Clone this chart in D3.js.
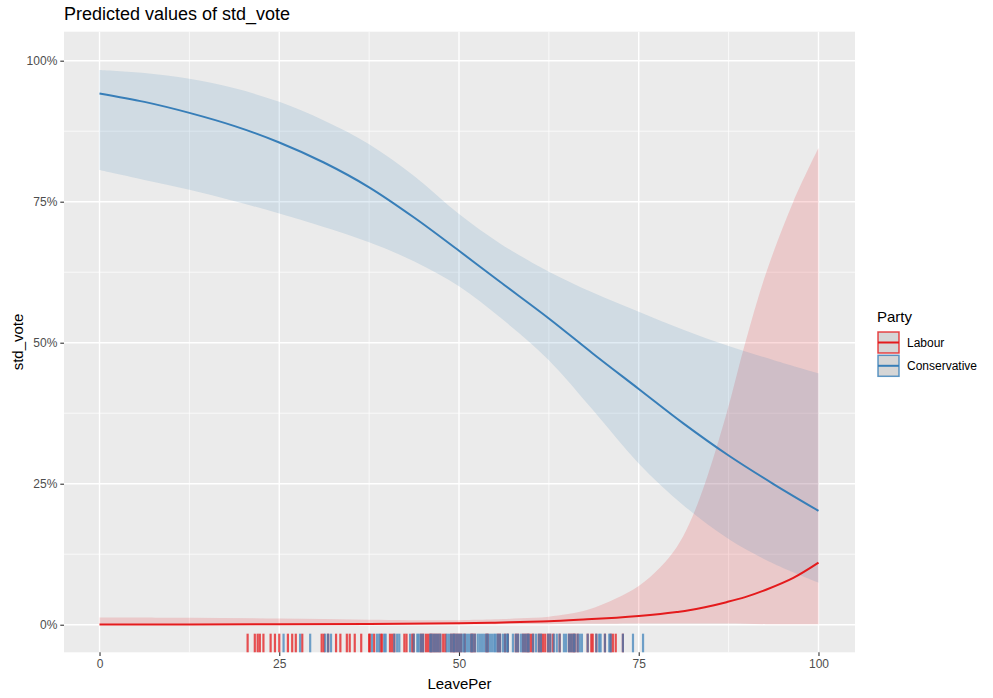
<!DOCTYPE html>
<html><head><meta charset="utf-8">
<script src="https://cdn.jsdelivr.net/npm/d3@7"></script>
<style>body{margin:0;background:#fff}svg{display:block}text{font-family:"Liberation Sans",Arial,Helvetica,sans-serif}</style>
</head><body>
<svg id="chart" width="993" height="698"></svg>
<script>
// ---- data ----
const consX     = [0, 6.25, 12.5, 18.8, 25, 31.2, 37.5, 43.8, 50, 55.7, 62.5, 68.6, 75, 81.2, 87.5, 93.8, 100];
const consFit   = [0.942, 0.927, 0.9075, 0.884, 0.855, 0.8195, 0.7755, 0.7215, 0.663, 0.608, 0.543, 0.481, 0.418, 0.357, 0.3, 0.249, 0.202];
const consHigh  = [0.9835, 0.978, 0.968, 0.951, 0.927, 0.894, 0.852, 0.795, 0.728, 0.676, 0.626, 0.589, 0.555, 0.523, 0.494, 0.469, 0.4457];
const consLow   = [0.806, 0.7885, 0.771, 0.751, 0.729, 0.705, 0.678, 0.644, 0.6, 0.545, 0.469, 0.381, 0.286, 0.212, 0.152, 0.108, 0.0745];

const labX      = [0, 12.5, 25, 37.5, 50, 55, 58.5, 62.5, 67.8, 71.9, 75, 78, 80.3, 82, 84.2, 87.2, 89.8, 92.7, 96.5, 100];
const labFit    = [0.0003, 0.0005, 0.0007, 0.0012, 0.0025, 0.0036, 0.0048, 0.006, 0.0095, 0.0125, 0.0154, 0.019, 0.0225, 0.0255, 0.031, 0.04, 0.049, 0.062, 0.083, 0.11];
const labHigh   = [0.013, 0.0125, 0.011, 0.009, 0.008, 0.0095, 0.0113, 0.0142, 0.026, 0.0468, 0.0686, 0.102, 0.138, 0.178, 0.25, 0.374, 0.499, 0.623, 0.75, 0.845];
const labLow    = [0, 0.0001, 0.0001, 0.0002, 0.0004, 0.0006, 0.0008, 0.001, 0.0015, 0.0018, 0.002, 0.002, 0.002, 0.002, 0.002, 0.002, 0.0015, 0.001, 0.001, 0.001];

const rugLabour = [20.6, 21.6, 22.0, 22.3, 22.8, 23.8, 24.4, 25.0, 26.2, 26.8, 27.3, 28.2, 30.9, 31.2, 31.8, 32.9, 33.5, 34.4, 34.8, 35.5, 36.4, 37.5,
  37.6, 38.2, 39.1, 39.3, 40.4, 40.7, 41.0, 42.4, 42.7, 43.5, 43.7, 44.7, 45.0, 45.4, 45.7, 46.0, 46.2, 46.5, 46.8, 47.1, 47.4, 47.8, 48.1,
  48.9, 49.2, 49.4, 49.7, 50.0, 50.3, 50.8, 51.7, 51.9, 52.2, 53.8, 54.0, 55.4, 55.7, 56.4, 56.8, 57.9, 58.2, 58.9, 59.2, 59.5, 59.7, 60.0,
  60.3, 61.1, 61.4, 61.7, 62.0, 62.4, 62.7, 63.1, 64.0, 65.3, 65.6, 65.9, 66.1, 66.5, 67.9, 68.4, 68.6, 69.1, 70.3, 71.1, 71.4, 71.8, 72.8];
const rugCons = [25.6, 27.9, 29.3, 31.4, 31.8, 32.2,
  37.9, 38.6, 38.9, 39.6, 39.8, 41.0, 41.4, 41.7, 43.2, 43.7, 44.2, 44.4, 44.7, 45.0, 46.0, 46.2, 46.5, 46.8, 47.1, 47.4, 48.3, 48.6, 48.9,
  49.2, 49.4, 49.7, 50.0, 50.3, 50.6, 50.8, 51.1, 51.4, 51.7, 51.9, 52.2, 52.6, 52.9, 53.2, 53.5, 53.8, 54.0, 54.3, 54.6, 54.9, 55.1, 55.4,
  55.7, 56.1, 56.4, 56.7, 56.8, 57.5, 57.9, 58.2, 58.6, 58.9, 59.2, 59.5, 59.7, 60.3, 60.7, 61.1, 61.4, 62.4, 62.7, 63.2, 63.6, 64.0, 64.6,
  64.9, 65.3, 65.6, 65.9, 66.1, 66.5, 66.8, 67.1, 67.9, 69.1, 69.5, 69.7, 70.3, 70.9, 71.1, 72.8, 74.2, 75.6];

const xTicks = [0, 25, 50, 75, 100];
const xMinor = [12.5, 37.5, 62.5, 87.5];
const yTicks = [0, 0.25, 0.5, 0.75, 1];
const yMinor = [0.125, 0.375, 0.625, 0.875];
const yTickLabels = ["0%", "25%", "50%", "75%", "100%"];
const parties = ["Labour", "Conservative"];
const partyColors = ["#e41a1c", "#377eb8"];

// ---- layout ----
const svg = d3.select("#chart");
const P = {l: 64, r: 855, t: 31.7, b: 652.3};
const x = d3.scaleLinear().domain([-4.94, 105.08]).range([P.l, P.r]);
const y = d3.scaleLinear().domain([-0.0489, 1.0514]).range([P.b, P.t]);

svg.append("rect").attr("x", P.l).attr("y", P.t).attr("width", P.r - P.l).attr("height", P.b - P.t).attr("fill", "#ebebeb");

const g = svg.append("g");
g.selectAll(".xminor").data(xMinor).join("line").attr("x1", d => x(d)).attr("x2", d => x(d)).attr("y1", P.t).attr("y2", P.b).attr("stroke", "#fff").attr("stroke-width", 0.7);
g.selectAll(".yminor").data(yMinor).join("line").attr("y1", d => y(d)).attr("y2", d => y(d)).attr("x1", P.l).attr("x2", P.r).attr("stroke", "#fff").attr("stroke-width", 0.7);
g.selectAll(".xmajor").data(xTicks).join("line").attr("x1", d => x(d)).attr("x2", d => x(d)).attr("y1", P.t).attr("y2", P.b).attr("stroke", "#fff").attr("stroke-width", 1.4);
g.selectAll(".ymajor").data(yTicks).join("line").attr("y1", d => y(d)).attr("y2", d => y(d)).attr("x1", P.l).attr("x2", P.r).attr("stroke", "#fff").attr("stroke-width", 1.4);

// ribbons
const curve = d3.curveCatmullRom.alpha(0.5);
const area = d3.area().x(d => x(d.x)).y0(d => y(d.lo)).y1(d => y(d.hi)).curve(curve);
const line = d3.line().x(d => x(d.x)).y(d => y(d.fit)).curve(curve);
const labData = labX.map((v, i) => ({x: v, fit: labFit[i], lo: labLow[i], hi: labHigh[i]}));
const consData = consX.map((v, i) => ({x: v, fit: consFit[i], lo: consLow[i], hi: consHigh[i]}));

svg.append("path").datum(labData).attr("d", area).attr("fill", partyColors[0]).attr("fill-opacity", 0.16);
svg.append("path").datum(consData).attr("d", area).attr("fill", partyColors[1]).attr("fill-opacity", 0.15);

// rug
const rugTop = P.b - 0.03 * (P.b - P.t);
svg.append("g").selectAll("line").data(rugLabour).join("line")
  .attr("x1", d => x(d)).attr("x2", d => x(d)).attr("y1", rugTop).attr("y2", P.b)
  .attr("stroke", partyColors[0]).attr("stroke-width", 2.2).attr("stroke-opacity", 0.75);
svg.append("g").selectAll("line").data(rugCons).join("line")
  .attr("x1", d => x(d)).attr("x2", d => x(d)).attr("y1", rugTop).attr("y2", P.b)
  .attr("stroke", partyColors[1]).attr("stroke-width", 2.2).attr("stroke-opacity", 0.7);

// lines
svg.append("path").datum(labData).attr("d", line).attr("fill", "none").attr("stroke", partyColors[0]).attr("stroke-width", 2);
svg.append("path").datum(consData).attr("d", line).attr("fill", "none").attr("stroke", partyColors[1]).attr("stroke-width", 2);

// axes
const xAxis = svg.append("g").attr("transform", `translate(0,${P.b})`)
  .call(d3.axisBottom(x).tickValues(xTicks).tickSize(3.7).tickPadding(3));
const yAxis = svg.append("g").attr("transform", `translate(${P.l},0)`)
  .call(d3.axisLeft(y).tickValues(yTicks).tickFormat((d, i) => yTickLabels[i]).tickSize(3.7).tickPadding(3));
[xAxis, yAxis].forEach(a => {
  a.select(".domain").remove();
  a.selectAll(".tick line").attr("stroke", "#333").attr("stroke-width", 1.1);
  a.selectAll(".tick text").attr("fill", "#4d4d4d").attr("font-size", 12).attr("font-family", '"Liberation Sans",Arial,sans-serif');
});

// titles
svg.append("text").attr("x", 64).attr("y", 20).attr("font-size", 18).attr("fill", "#000").text("Predicted values of std_vote");
svg.append("text").attr("x", (P.l + P.r) / 2).attr("y", 689).attr("text-anchor", "middle").attr("font-size", 15).attr("fill", "#000").text("LeavePer");
svg.append("text").attr("transform", `translate(23,${(P.t + P.b) / 2}) rotate(-90)`).attr("text-anchor", "middle").attr("font-size", 15).attr("fill", "#000").text("std_vote");

// legend
const lg = svg.append("g");
lg.append("text").attr("x", 877).attr("y", 322).attr("font-size", 15).attr("fill", "#000").text("Party");
parties.forEach((p, i) => {
  const ky = 332 + i * 23.3;
  lg.append("rect").attr("x", 878).attr("y", ky).attr("width", 21).attr("height", 21).attr("fill", "#d6d6d6")
    .attr("stroke", partyColors[i]).attr("stroke-width", 1.5).attr("stroke-opacity", 0.8);
  lg.append("line").attr("x1", 878).attr("x2", 899).attr("y1", ky + 10.5).attr("y2", ky + 10.5).attr("stroke", partyColors[i]).attr("stroke-width", 2);
  lg.append("text").attr("x", 907).attr("y", ky + 15).attr("font-size", 12).attr("fill", "#000").text(p);
});
</script>
</body></html>
